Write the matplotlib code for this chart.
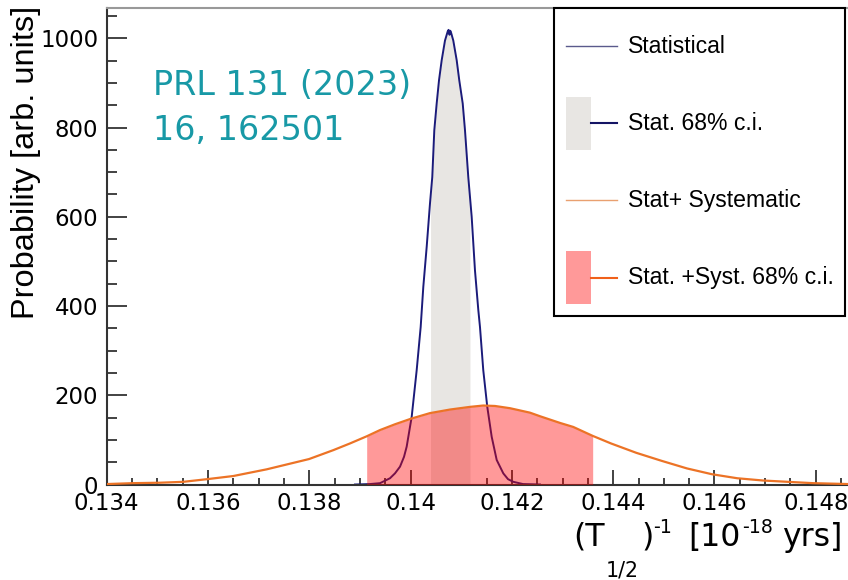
import numpy as np
import matplotlib
matplotlib.use("Agg")
import matplotlib.pyplot as plt
from matplotlib.lines import Line2D
from matplotlib.patches import Patch
from matplotlib.legend_handler import HandlerTuple, HandlerLine2D
from matplotlib.ticker import MultipleLocator, FuncFormatter

plt.rcParams['font.family'] = ['DejaVu Sans']

# statistical-only posterior
stat_x = [0.138902, 0.139198, 0.139396, 0.139593, 0.139692, 0.139791, 0.139870,
          0.139923, 0.140022, 0.140120, 0.140199, 0.140251, 0.140318, 0.140383,
          0.140428, 0.140468, 0.140515, 0.140561, 0.140614, 0.140679, 0.140734,
          0.140750, 0.140768, 0.140784, 0.140801, 0.140843, 0.140910, 0.140961,
          0.141029, 0.141074, 0.141139, 0.141206, 0.141271, 0.141337, 0.141370,
          0.141435, 0.141514, 0.141601, 0.141700, 0.141830, 0.141923, 0.142028,
          0.142219, 0.142555]
stat_y = [0, 1, 3, 14, 25, 40, 62, 85, 152, 256, 353, 443, 533, 630,
          689, 794, 854, 906, 951, 995, 1016, 1019, 1008, 1017, 1012, 995, 951, 906,
          854, 794, 689, 600, 480, 391, 353, 256, 174, 107, 55, 25, 12, 6,
          1, 0]

# stat + systematic posterior
syst_x = [0.134000, 0.134525, 0.135052, 0.135512, 0.135986, 0.136499, 0.137159,
          0.137994, 0.138474, 0.138803, 0.139133, 0.139396, 0.139692, 0.140022,
          0.140383, 0.140778, 0.141173, 0.141435, 0.141666, 0.141962, 0.142357,
          0.142555, 0.142950, 0.143212, 0.143595, 0.143957, 0.144456, 0.144957,
          0.145457, 0.145950, 0.146450, 0.146951, 0.147445, 0.147945, 0.148636]
syst_y = [1, 3, 4, 6, 12, 19, 34, 57, 77, 92, 108, 122, 135, 148, 160, 168, 174,
          177, 176, 171, 161, 153, 138, 129, 109, 92, 71, 53, 36, 23, 14, 9, 6, 3, 1]

stat_ci = (0.140394, 0.141172)
syst_ci = (0.139133, 0.143595)

labels = ["Statistical", "Stat. 68% c.i.", "Stat+ Systematic", "Stat. +Syst. 68% c.i."]

W, H = 848, 580
fig = plt.figure(figsize=(W / 100, H / 100), dpi=100)
ax = fig.add_axes([106.7 / W, 95.5 / H, (W - 106.7) / W, 476.5 / H])


def band(x, y, lo, hi):
    x = np.asarray(x, float)
    y = np.asarray(y, float)
    keep = (x > lo) & (x < hi)
    bx = np.concatenate([[lo], x[keep], [hi]])
    by = np.concatenate([[np.interp(lo, x, y)], y[keep], [np.interp(hi, x, y)]])
    return bx, by


bx, by = band(stat_x, stat_y, *stat_ci)
ax.fill_between(bx, 0, by, color='#e8e6e3', lw=0, zorder=1)
ax.plot(stat_x, stat_y, color='#1b1b7a', lw=1.4, zorder=2)
rx, ry = band(syst_x, syst_y, *syst_ci)
ax.fill_between(rx, 0, ry, color='red', alpha=0.4, lw=0, zorder=3)
ax.plot(syst_x, syst_y, color='#ec7326', lw=1.6, zorder=4)

ax.set_xlim(0.134, 0.148636)
ax.set_ylim(0, 1068)
ax.set_axisbelow(True)

ax.xaxis.set_major_locator(MultipleLocator(0.002))
ax.xaxis.set_minor_locator(MultipleLocator(0.0005))
ax.yaxis.set_major_locator(MultipleLocator(200))
ax.yaxis.set_minor_locator(MultipleLocator(50))
ax.xaxis.set_major_formatter(FuncFormatter(lambda v, p: f"{round(v, 6):g}"))
ax.tick_params(which='both', direction='in', color='#222222', width=1.2)
ax.tick_params(axis='x', which='major', length=11, pad=5.2, labelsize=16.5)
ax.tick_params(axis='x', which='minor', length=5.3)
ax.tick_params(axis='y', which='major', length=14.4, pad=6.0, labelsize=16.5)
ax.tick_params(axis='y', which='minor', length=7.2)

for s in ['left', 'bottom']:
    ax.spines[s].set_color('#333333')
    ax.spines[s].set_linewidth(1.5)
ax.spines['top'].set_color('#999999')
ax.spines['top'].set_linewidth(1.5)
ax.spines['right'].set_visible(False)


class CenteredLine(HandlerLine2D):
    # keep legend lines in the middle of the tall handle boxes
    def create_artists(self, legend, orig_handle, xdescent, ydescent, width, height, fontsize, trans):
        arts = super().create_artists(legend, orig_handle, xdescent, ydescent,
                                      width, height, fontsize, trans)
        for a in arts:
            a.set_ydata(np.asarray(a.get_ydata()) - ydescent / 2)
        return arts


handles = [
    Line2D([], [], color='#5a5a8c', lw=1),
    (Patch(facecolor='#e8e6e3', edgecolor='none'), Line2D([], [], color='#141464', lw=1.5)),
    Line2D([], [], color='#e9a070', lw=1),
    (Patch(facecolor='#ff9999', edgecolor='none'), Line2D([], [], color='#f0601a', lw=1.5)),
]
leg = ax.legend(handles, labels,
                handler_map={tuple: HandlerTuple(ndivide=None, pad=0), Line2D: CenteredLine()},
                loc='upper right', bbox_to_anchor=((845 - 106.7) / (W - 106.7), 1.0),
                prop={'family': 'Liberation Sans', 'size': 16.6},
                handlelength=2.2, handleheight=3.17, labelspacing=1.04,
                handletextpad=0.48, borderpad=0.5, borderaxespad=0,
                fancybox=False, framealpha=1, edgecolor='black')
leg.get_frame().set_linewidth(1.5)

# reference annotation
fig.text(153 / W, 1 - 95 / H, "PRL 131 (2023)", color='#1899a6', fontsize=24, va='baseline')
fig.text(153 / W, 1 - 140 / H, "16, 162501", color='#1899a6', fontsize=24, va='baseline')

# y label
fig.text(34 / W, 1 - 6 / H, "Probability [arb. units]", rotation=90, rotation_mode='anchor',
         ha='right', va='baseline', fontsize=23.4, family='Liberation Sans')

# x label built ROOT-style, piece by piece
def xl(s, px, base, size):
    fig.text(px / W, 1 - base / H, s, fontsize=size, va='baseline', ha='left')

xl("(T", 573, 546, 22.7)
xl("1/2", 606, 577, 14.8)
xl(")", 641, 546, 22.7)
xl("-1", 653, 533, 13.8)
xl("[10", 688, 546, 22.7)
xl("-18", 742, 533, 13.8)
xl("yrs]", 782, 546, 22.7)

fig.savefig("out.png", dpi=100)
